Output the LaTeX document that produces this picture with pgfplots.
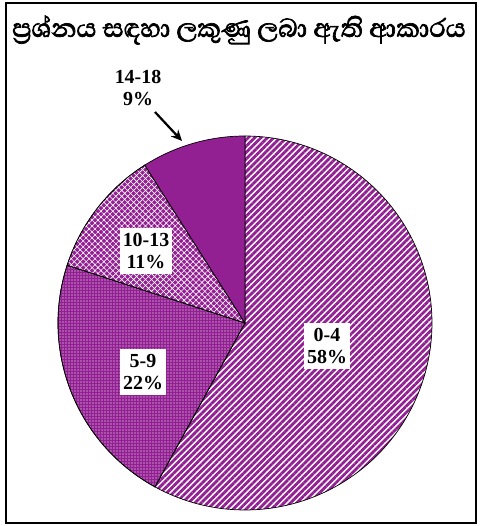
\documentclass[border=0pt]{standalone}
\usepackage{pgfplots}
\pgfplotsset{compat=1.18}
\usepackage{pgfplotstable}
\usepackage{fontspec}
\usetikzlibrary{patterns.meta,arrows.meta}
\setmainfont{Liberation Serif}
\newfontfamily\sinhala[Script=Sinhala,AutoFakeBold=2.2]{Abhaya Libre}
\definecolor{pie}{HTML}{932093}

% share of marks per range (percent)
\pgfplotstableread{
label value
0-4   58
5-9   22
10-13 11
14-18 9
}\piedata

\begin{document}%
\begin{tikzpicture}
\pgfplotstablegetelem{0}{value}\of\piedata \let\vA\pgfplotsretval
\pgfplotstablegetelem{1}{value}\of\piedata \let\vB\pgfplotsretval
\pgfplotstablegetelem{2}{value}\of\piedata \let\vC\pgfplotsretval
\pgfplotstablegetelem{3}{value}\of\piedata \let\vD\pgfplotsretval
\pgfmathsetmacro\tA{90}
\pgfmathsetmacro\tB{\tA-3.6*\vA}
\pgfmathsetmacro\tC{\tB-3.6*\vB}
\pgfmathsetmacro\tD{\tC-3.6*\vC}
\pgfmathsetmacro\tE{\tD-3.6*\vD}
\begin{axis}[scale only axis,width=481bp,height=526bp,
  xmin=0,xmax=481,ymin=0,ymax=526,hide axis,clip=false]
  \path (axis cs:0,0) rectangle (axis cs:481,526);
  \pgfplotsset{every axis plot/.append style={draw=black,line width=0.7bp,samples=150,variable=\t}}
  % slices, clockwise from the top
  \addplot[pattern={Lines[angle=45,distance=4.5bp,line width=2.8bp]},pattern color=pie,domain=\tB:\tA]
    ({245+187*cos(t)},{203+187*sin(t)}) -- (axis cs:245,203) -- cycle;
  \addplot[preaction={fill=pie},pattern={Dots[distance=3bp,radius=0.7bp]},pattern color=white,domain=\tC:\tB]
    ({245+187*cos(t)},{203+187*sin(t)}) -- (axis cs:245,203) -- cycle;
  \addplot[preaction={fill=pie},pattern={Hatch[angle=45,distance=4.2bp,line width=0.6bp]},pattern color=white,domain=\tD:\tC]
    ({245+187*cos(t)},{203+187*sin(t)}) -- (axis cs:245,203) -- cycle;
  \addplot[fill=pie,domain=\tE:\tD]
    ({245+187*cos(t)},{203+187*sin(t)}) -- (axis cs:245,203) -- cycle;

  \begin{scope}[every node/.style={font=\fontsize{20}{22.5}\selectfont\bfseries,align=center,inner xsep=3bp,inner ysep=5bp}]
    \node[fill=white] at (axis cs:327,180) {0-4\\58\%};
    \node[fill=white] at (axis cs:143,154) {5-9\\22\%};
    \node[fill=white] at (axis cs:146,275) {10-13\\11\%};
    \node at (axis cs:138,438) {14-18\\9\%};
  \end{scope}
  \draw[-{Stealth[length=11bp,width=10bp]},line width=2.2bp] (axis cs:155,414) -- (axis cs:182,385);

  \node[anchor=west,inner sep=0pt,font=\sinhala\fontsize{33}{36}\selectfont\bfseries] at (axis cs:12,496)
    {ප්‍රශ්නය සඳහා ලකුණු ලබා ඇති ආකාරය};
  \draw[line width=2bp] (axis cs:6,3) rectangle (axis cs:476,523);
\end{axis}
\end{tikzpicture}%
\end{document}
